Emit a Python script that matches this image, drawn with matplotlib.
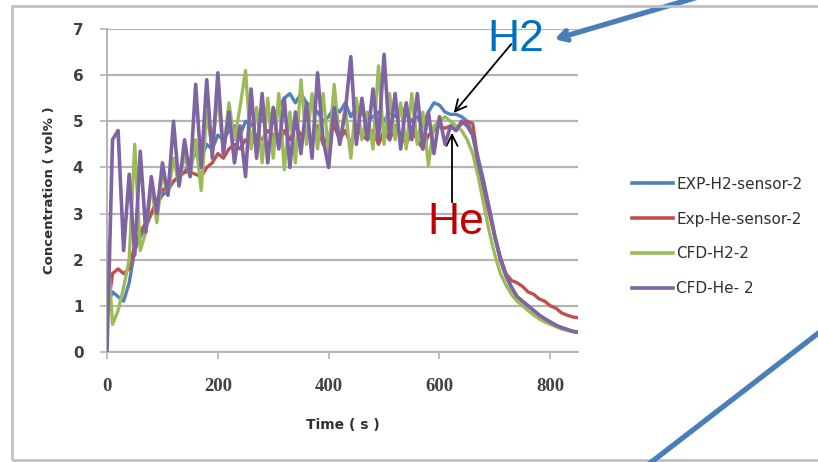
import numpy as np
import matplotlib
matplotlib.use("Agg")
import matplotlib.pyplot as plt
from matplotlib.patches import Rectangle

# ---- data (vol %), one value every 10 s ----
t = np.arange(0, 860, 10)          # 0..850 s

exp_h2 = [
    1.0, 1.3, 1.2, 1.1, 1.5, 2.2, 2.5, 2.7, 3.0, 3.2,
    3.4, 3.5, 3.7, 3.8, 3.9, 4.1, 4.3, 4.2, 4.5, 4.4,
    4.7, 4.6, 4.8, 4.9, 4.7, 5.0, 4.9, 5.1, 5.0, 5.2,
    5.1, 5.3, 5.5, 5.6, 5.4, 5.6, 5.4, 5.3, 5.2, 5.0,
    5.1, 5.3, 5.2, 5.4, 5.1, 5.3, 5.2, 5.0, 5.1, 5.2,
    5.0, 5.2, 5.1, 5.3, 5.2, 5.0, 5.1, 4.9, 5.2, 5.4,
    5.35, 5.2, 5.15, 5.15, 5.1, 5.0, 4.7, 4.2, 3.7, 3.1,
    2.5, 2.0, 1.65, 1.4, 1.2, 1.1, 1.0, 0.9, 0.8, 0.72,
    0.65, 0.58, 0.53, 0.49, 0.45, 0.43,
]

exp_he = [
    0.8, 1.7, 1.8, 1.7, 1.8, 2.3, 2.6, 2.8, 3.0, 3.3,
    3.5, 3.6, 3.7, 3.8, 3.9, 3.9, 3.85, 3.8, 4.0, 4.1,
    4.3, 4.2, 4.4, 4.5, 4.4, 4.6, 4.5, 4.7, 4.6, 4.8,
    4.7, 4.5, 4.8, 4.6, 4.9, 4.7, 4.8, 4.6, 4.9, 4.5,
    4.7, 4.9, 4.6, 4.8, 4.5, 4.9, 4.7, 4.6, 4.8, 4.5,
    4.8, 4.6, 4.9, 4.7, 4.5, 4.8, 4.6, 4.4, 4.7, 4.8,
    4.9, 4.85, 4.9, 4.8, 4.95, 5.0, 4.95, 4.1, 3.5, 3.0,
    2.5, 2.05, 1.7, 1.55, 1.5, 1.42, 1.3, 1.25, 1.15, 1.1,
    1.0, 0.95, 0.85, 0.8, 0.76, 0.74,
]

cfd_h2 = [
    2.4, 0.6, 0.9, 1.4, 2.0, 4.5, 2.2, 2.6, 3.6, 2.8,
    3.9, 3.4, 4.2, 3.6, 4.3, 3.8, 4.6, 3.5, 5.2, 4.4,
    5.6, 4.3, 5.4, 4.6, 5.3, 6.1, 4.4, 5.3, 4.1, 5.5,
    4.2, 5.6, 3.95, 5.2, 4.1, 5.9, 4.5, 5.6, 4.4, 5.6,
    4.3, 5.8, 4.5, 5.3, 4.2, 5.5, 4.6, 5.2, 4.4, 6.2,
    4.5, 5.6, 4.6, 5.4, 4.4, 5.6, 4.5, 5.2, 4.05, 4.9,
    5.0, 5.1, 5.0, 4.9, 4.8, 4.6, 4.3, 3.8, 3.2, 2.6,
    2.1, 1.7, 1.45, 1.25, 1.1, 1.0, 0.9, 0.8, 0.72, 0.65,
    0.6, 0.55, 0.5, 0.47, 0.44, 0.42,
]

cfd_he = [
    0.0, 4.6, 4.8, 2.2, 3.85, 2.1, 4.35, 2.6, 3.8, 3.0,
    4.1, 3.4, 5.0, 3.6, 4.6, 3.8, 5.8, 4.0, 5.9, 4.2,
    6.05, 4.3, 5.2, 4.1, 4.9, 3.8, 5.7, 4.2, 5.6, 4.1,
    5.3, 4.4, 5.5, 4.0, 5.2, 4.3, 5.4, 4.2, 6.05, 4.6,
    4.0, 5.3, 4.5, 5.2, 6.4, 4.5, 5.5, 4.6, 5.7, 4.6,
    6.45, 4.6, 5.6, 4.4, 5.4, 4.6, 5.6, 4.4, 5.2, 4.3,
    5.1, 4.5, 4.9, 4.8, 5.0, 4.9, 4.7, 4.1, 3.6, 3.1,
    2.5, 2.0, 1.65, 1.4, 1.2, 1.1, 1.0, 0.9, 0.8, 0.72,
    0.65, 0.58, 0.53, 0.49, 0.45, 0.43,
]

labels = ["EXP-H2-sensor-2", "Exp-He-sensor-2", "CFD-H2-2", "CFD-He- 2"]
colors = ["#4F81BD", "#C0504D", "#9BBB59", "#8064A2"]

W, H = 818, 462
fig = plt.figure(figsize=(W / 100, H / 100), dpi=100)
ax = fig.add_axes([107 / W, 1 - 352 / H, (578 - 107) / W, (352 - 29) / H])

ax.plot(t, exp_h2, color=colors[0], lw=2.4, label=labels[0], zorder=3)
ax.plot(t, exp_he, color=colors[1], lw=2.4, label=labels[1], zorder=3)
ax.plot(t, cfd_h2, color=colors[2], lw=2.4, label=labels[2], zorder=3)
ax.plot(t, cfd_he, color=colors[3], lw=2.6, label=labels[3], zorder=4)

ax.set_xlim(0, 850)
ax.set_ylim(0, 7)
ax.set_xticks([0, 200, 400, 600, 800])
ax.set_yticks(range(8))
ax.grid(axis="y", color="#b4b4b4", lw=1.6)
ax.set_axisbelow(True)
for s in ["top", "right"]:
    ax.spines[s].set_visible(False)
for s in ["left", "bottom"]:
    ax.spines[s].set_color("#b4b4b4")
    ax.spines[s].set_linewidth(1.4)
ax.tick_params(axis="both", color="#b4b4b4", length=5, width=1.2, direction="out")
for lab in ax.get_yticklabels():
    lab.set_fontfamily("DejaVu Sans")
    lab.set_fontweight("bold")
    lab.set_fontsize(11)
    lab.set_color("#404040")
for lab in ax.get_xticklabels():
    lab.set_fontfamily("Liberation Serif")
    lab.set_fontweight("bold")
    lab.set_fontsize(13.5)
    lab.set_color("#404040")
ax.tick_params(axis="x", pad=14)
ax.tick_params(axis="y", pad=12)

ax.set_xlabel("Time ( s )", fontsize=10, fontweight="bold", color="#303030", labelpad=16)
ax.set_ylabel("Concentration ( vol% )", fontsize=9.5, fontweight="bold", color="#303030", labelpad=12)

leg = ax.legend(loc="upper left", bbox_to_anchor=(618 / W, 1 - 163 / H),
                bbox_transform=fig.transFigure, frameon=False,
                handlelength=2.7, handletextpad=0.2, labelspacing=1.3,
                prop={"family": "DejaVu Sans", "size": 11})
for ln in leg.get_lines():
    ln.set_linewidth(2.6)
for tx in leg.get_texts():
    tx.set_color("#303030")

# outer chart frame
fig.add_artist(Rectangle((12 / W, 2 / H), 1.2, (460 - 6) / H, transform=fig.transFigure,
                         fill=False, edgecolor="#c0c0c0", lw=2))

# annotations (figure pixel coords, origin bottom-left)
fig.text(487 / W, 1 - 51 / H, "H2", color="#0070C0", fontsize=32,
         family="Liberation Sans", va="baseline")
fig.text(427 / W, 1 - 234 / H, "He", color="#C00000", fontsize=32,
         family="Liberation Sans", va="baseline")

ax.annotate("", xy=(452, H - 115), xycoords="figure pixels",
            xytext=(513, H - 42), textcoords="figure pixels",
            arrowprops=dict(arrowstyle="->,head_length=0.8,head_width=0.4", color="black", lw=1.3),
            annotation_clip=False)
ax.annotate("", xy=(452, H - 130), xycoords="figure pixels",
            xytext=(452, H - 205), textcoords="figure pixels",
            arrowprops=dict(arrowstyle="->,head_length=0.8,head_width=0.4", color="black", lw=1.3),
            annotation_clip=False)
ax.annotate("", xy=(552, H - 40), xycoords="figure pixels",
            xytext=(705, H + 5), textcoords="figure pixels",
            arrowprops=dict(arrowstyle="->,head_length=0.6,head_width=0.35", color="#4A7EBB", lw=3.8),
            annotation_clip=False)
fig.add_artist(plt.Line2D([645 / W, 825 / W], [-5 / H, 134 / H], transform=fig.transFigure,
                          color="#4A7EBB", lw=3.8))

fig.savefig("out.png", dpi=100)
